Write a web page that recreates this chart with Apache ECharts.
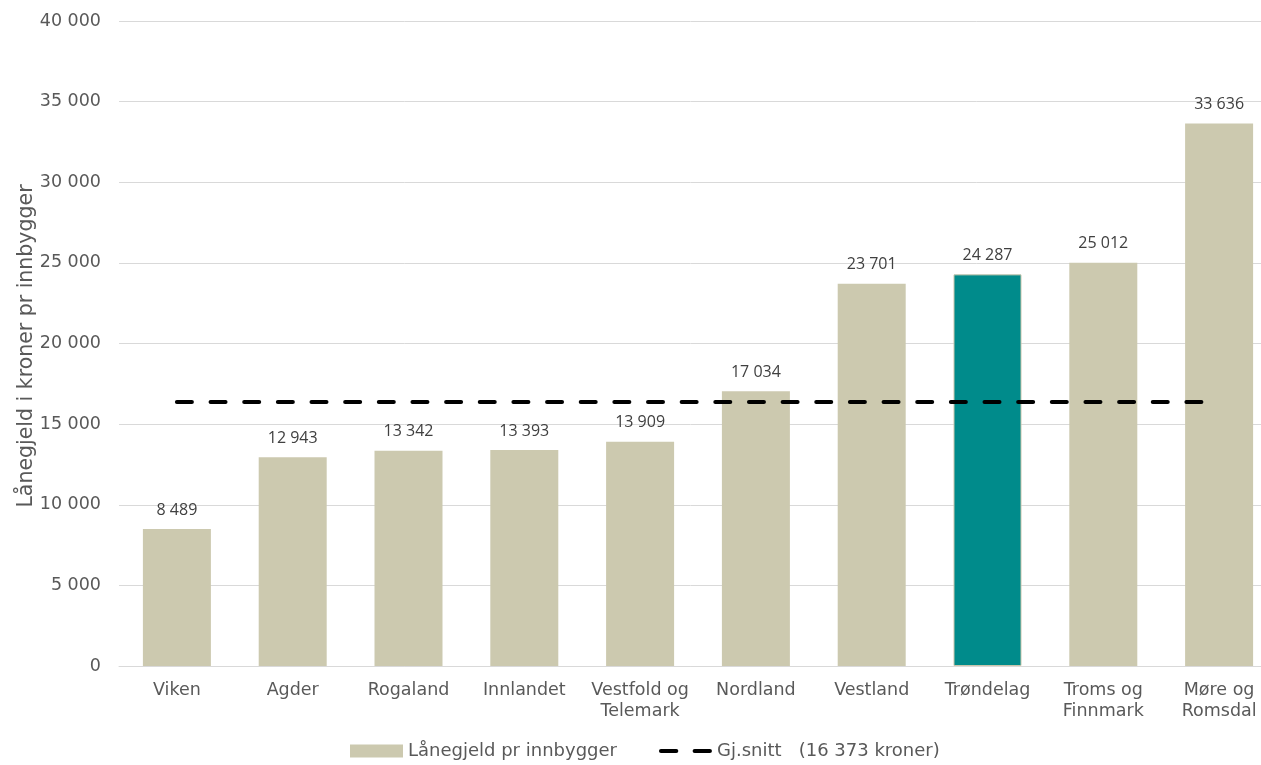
<!DOCTYPE html>
<html><head><meta charset="utf-8">
<script src="https://cdn.jsdelivr.net/npm/echarts@6/dist/echarts.min.js"></script>
<style>html,body{margin:0;padding:0;background:#fff}#c{width:1261px;height:765px}</style>
</head><body><div id="c"></div>
<script>
const categories = ['Viken','Agder','Rogaland','Innlandet','Vestfold og\nTelemark','Nordland','Vestland','Trøndelag','Troms og\nFinnmark','Møre og\nRomsdal'];
const values = [8489,12943,13342,13393,13909,17034,23701,24287,25012,33636];
const highlightIndex = 7;
const average = 16373;
const yTicks = {min:0,max:40000,interval:5000};
const barName = 'Lånegjeld pr innbygger';
const lineName = 'Gj.snitt   (16 373 kroner)';
const yTitle = 'Lånegjeld i kroner pr innbygger';

const FF = "'DejaVu Sans', Verdana, sans-serif";
function fmt(v){return String(v).replace(/\B(?=(\d{3})+(?!\d))/g,' ');}
const chart = echarts.init(document.getElementById('c'));
chart.setOption({
  animation:false,
  grid:{left:119,width:1158,top:21,height:645,outerBoundsMode:'none',containLabel:false},
  graphic:[{type:'text',x:27,y:346,rotation:Math.PI/2,silent:true,
    style:{text:yTitle,align:'center',verticalAlign:'middle',fontFamily:FF,fontSize:20.5,fill:'#595959'}}],
  legend:{
    top:737,left:345,itemGap:42,
    textStyle:{fontFamily:FF,fontSize:18,color:'#595959'},
    data:[{name:barName,icon:'rect',itemStyle:{color:'#ccc9af'}},
          {name:lineName,icon:'path://M2,0 h15 a2,2 0 0 1 0,4 h-15 a2,2 0 0 1 0,-4 z M35,0 h15 a2,2 0 0 1 0,4 h-15 a2,2 0 0 1 0,-4 z',itemStyle:{color:'#000'}}],
    itemWidth:53,itemHeight:13
  },
  xAxis:{type:'category',data:categories,
    axisLine:{lineStyle:{color:'#d9d9d9'}},axisTick:{show:false},
    axisLabel:{fontFamily:FF,fontSize:17.5,color:'#595959',margin:14,lineHeight:21,interval:0}},
  yAxis:{type:'value',min:yTicks.min,max:yTicks.max,interval:yTicks.interval,
    axisLine:{show:false},axisTick:{show:false},
    splitLine:{lineStyle:{color:'#d9d9d9',width:1}},
    axisLabel:{fontFamily:FF,fontSize:17.5,color:'#595959',margin:18,formatter:v=>fmt(v)}},
  series:[
    {name:barName,type:'bar',barWidth:68,
     data:values.map((v,i)=>({value:v,itemStyle:i===highlightIndex?{color:'#008b8b',borderColor:'#c9c6ac',borderWidth:1}:{color:'#ccc9af'}})),
     itemStyle:{color:'#ccc9af'},
     label:{show:true,position:'top',distance:11,fontFamily:'Open Sans',fontSize:16,color:'#404040',formatter:p=>fmt(p.value)}},
    {name:lineName,type:'line',data:values.map(()=>average),symbol:'none',
     lineStyle:{color:'#000',width:4,type:[15,18.65],cap:'round'},itemStyle:{color:'#000'},z:5}
  ]
});
</script></body></html>
